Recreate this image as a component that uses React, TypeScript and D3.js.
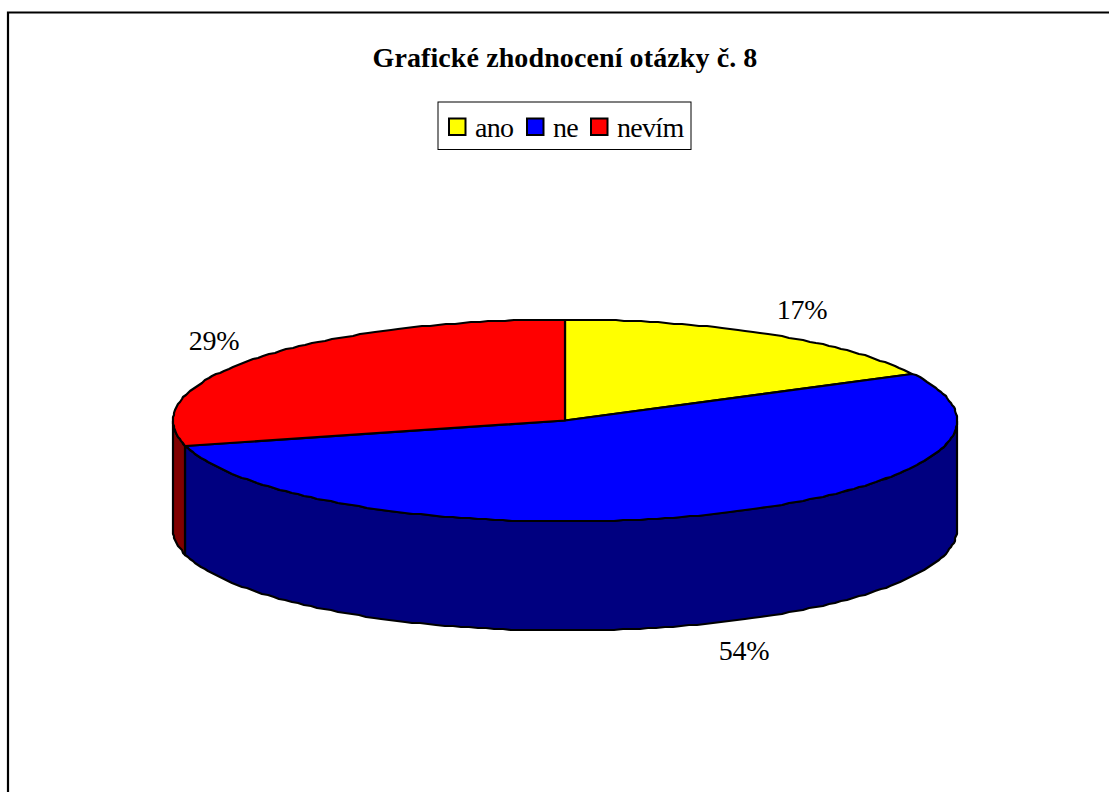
import React from "react";
import * as d3 from "d3";

const categories = ["ano", "ne", "nevím"];
const values = [17.3, 53.7, 29];
const labels = ["17%", "54%", "29%"];
const topColors = ["#ffff00", "#0000ff", "#ff0000"];
const sideColors = ["#808000", "#000080", "#800000"];
const title = "Grafické zhodnocení otázky č. 8";
const labelPos = [
  [802, 319],
  [744, 660],
  [214, 350],
];
const legendSwatchX = [449, 527, 591];
const legendTextX = [475, 553, 617];

const cx = 565;
const cy = 420.5;
const rx = 392;
const ry = 101;
const depth = 109;
const W = 1109;
const H = 792;
const font = '"Liberation Serif", "Times New Roman", serif';

const px = (a: number) => Math.round(cx + rx * Math.sin(a));
const py = (a: number) => Math.round(cy - ry * Math.cos(a));
const line = d3.line<[number, number]>();

function samples(a0: number, a1: number): number[] {
  const n = Math.max(2, Math.ceil(Math.abs(a1 - a0) / 0.022));
  return d3.range(n + 1).map((i) => a0 + ((a1 - a0) * i) / n);
}

export default function App() {
  const arcs = d3.pie<number>().sort(null)(values);
  return (
    <svg
      width={W}
      height={H}
      style={{ position: "absolute", left: 0, top: 0, display: "block" }}
      fontFamily={font}
    >
      <rect width={W} height={H} fill="#fff" />
      <path d={`M8,${H} V12.5 H${W}`} fill="none" stroke="#000" strokeWidth={2.2} />
      <text x={565} y={67} textAnchor="middle" fontSize={28} letterSpacing={0.1} fontWeight="bold" fill="#000">
        {title}
      </text>
      <rect x={438} y={102} width={253} height={47.5} fill="#fff" stroke="#000" strokeWidth={1} />
      {categories.map((c, i) => (
        <g key={c}>
          <rect
            x={legendSwatchX[i]}
            y={118.5}
            width={16.5}
            height={16.5}
            fill={topColors[i]}
            stroke="#000"
            strokeWidth={2}
          />
          <text x={legendTextX[i]} y={137} fontSize={28} letterSpacing={-0.7} fill="#000">
            {c}
          </text>
        </g>
      ))}
      {arcs.map((d, i) => {
        // visible wall: front half of the ellipse, angles between PI/2 and 3PI/2
        const a0 = Math.max(d.startAngle, Math.PI / 2);
        const a1 = Math.min(d.endAngle, (3 * Math.PI) / 2);
        if (a1 <= a0) return null;
        const s = samples(a0, a1);
        const top = s.map((a) => [px(a), py(a)] as [number, number]);
        const bottom = s
          .slice()
          .reverse()
          .map((a) => [px(a), py(a) + depth] as [number, number]);
        return (
          <path
            key={categories[i]}
            d={line([...top, ...bottom]) + "Z"}
            fill={sideColors[i]}
            stroke="#000"
            strokeWidth={2.2}
            strokeLinejoin="round"
          />
        );
      })}
      {arcs.map((d, i) => {
        const pts = samples(d.startAngle, d.endAngle).map(
          (a) => [px(a), py(a)] as [number, number]
        );
        return (
          <path
            key={categories[i]}
            d={line([[cx, cy], ...pts]) + "Z"}
            fill={topColors[i]}
            stroke="#000"
            strokeWidth={2.2}
            strokeLinejoin="round"
          />
        );
      })}
      {labels.map((l, i) => (
        <text key={l} x={labelPos[i][0]} y={labelPos[i][1]} textAnchor="middle" fontSize={28} letterSpacing={-0.3} fill="#000">
          {l}
        </text>
      ))}
    </svg>
  );
}
